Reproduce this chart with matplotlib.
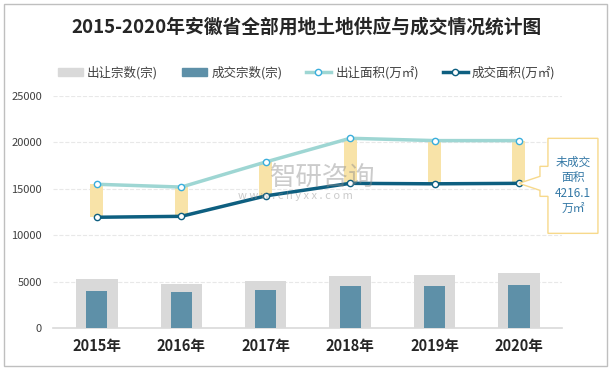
import numpy as np
import matplotlib
matplotlib.use('Agg')
import matplotlib.pyplot as plt
import matplotlib.transforms as mtransforms
from matplotlib.patches import Polygon, Rectangle
from matplotlib.lines import Line2D

plt.rcParams['font.family'] = ['Noto Sans CJK SC', 'DejaVu Sans']

years = ['2015年', '2016年', '2017年', '2018年', '2019年', '2020年']
sup_count = [5350, 4800, 5100, 5650, 5750, 5950]      # 出让宗数(宗)
deal_count = [4050, 3950, 4150, 4600, 4600, 4700]     # 成交宗数(宗)
sup_area = [15500, 15200, 17900, 20450, 20200, 20200]  # 出让面积(万㎡)
deal_area = [11950, 12050, 14250, 15600, 15550, 15600] # 成交面积(万㎡)
yticks = [0, 5000, 10000, 15000, 20000, 25000]
callout_text = '未成交\n面积\n4216.1\n万㎡'

C_SUP_BAR = '#D9D9D9'
C_DEAL_BAR = '#5E90A8'
C_SUP_LINE = '#9ED6D3'
C_DEAL_LINE = '#0E5F80'
C_GAP = '#F8E3A8'

W, H = 613, 370
fig = plt.figure(figsize=(W / 100, H / 100), dpi=100)
ax = fig.add_axes([53 / W, 1 - 328.3 / H, (562 - 53) / W, (328.3 - 96) / H])

x = np.arange(len(years))
ax.bar(x, sup_count, width=0.49, color=C_SUP_BAR, zorder=2)
ax.bar(x, deal_count, width=0.25, color=C_DEAL_BAR, zorder=3)

gap = np.array(sup_area) - np.array(deal_area)
ax.bar(x, gap, bottom=deal_area, width=0.155, color=C_GAP, zorder=3)

ax.plot(x, sup_area, color=C_SUP_LINE, lw=2.5, marker='o', ms=4.5,
        mfc='white', mec='#3AAEDC', mew=1, zorder=4)
ax.plot(x, deal_area, color=C_DEAL_LINE, lw=2.5, marker='o', ms=4.5,
        mfc='white', mec=C_DEAL_LINE, mew=1, zorder=5)

ax.set_xlim(-0.52, 5.51)
ax.set_ylim(0, 25000)
ax.set_yticks(yticks)
ax.set_yticklabels([str(v) for v in yticks], fontsize=8, color='#404040')
ax.set_xticks(x)
ax.set_xticklabels(years, fontsize=10.5, fontweight='bold', color='#262626')
ax.tick_params(axis='both', length=0)
ax.tick_params(axis='y', pad=8)
ax.tick_params(axis='x', pad=7)
ax.grid(axis='y', color='#E8E8E8', lw=0.8, ls='--', zorder=0)
for s in ['left', 'right', 'top']:
    ax.spines[s].set_visible(False)
ax.spines['bottom'].set_color('#D9D9D9')
ax.spines['bottom'].set_linewidth(1.2)
ax.set_axisbelow(True)

# callout pointing at the last 成交面积 point
tr = mtransforms.Affine2D() + mtransforms.ScaledTranslation(x[-1], deal_area[-1], ax.transData)
verts = [(29, 45), (29, 17), (21, 17), (21, 7), (0, 0), (21, -7), (21, -13),
         (29, -13), (29, -50), (79, -50), (79, 45)]
ax.add_patch(Polygon(verts, closed=True, transform=tr, facecolor='white',
                     edgecolor='#F7D98B', lw=1, zorder=6, clip_on=False))
ax.text(54, -2, callout_text, transform=tr, ha='center', va='center',
        fontsize=8.5, color='#3579A6', linespacing=1.25, zorder=7)

# watermark
fig.text(270 / W, 1 - 177 / H, '智研咨询', fontsize=19, color='#8C8C8C', alpha=0.45,
         ha='left', va='center', zorder=10)
fig.text(238 / W, 1 - 196 / H, 'w w w . c h y x x . c o m', fontsize=8, color='#8C8C8C',
         alpha=0.45, ha='left', va='center', zorder=10)

# title
fig.text(0.5, 1 - 27 / H, '2015-2020年安徽省全部用地土地供应与成交情况统计图',
         fontsize=13.5, fontweight='bold', color='#262626', ha='center', va='center')

handles = [
    Rectangle((0, 0), 1, 1, color=C_SUP_BAR),
    Rectangle((0, 0), 1, 1, color=C_DEAL_BAR),
    Line2D([], [], color=C_SUP_LINE, lw=2.5, marker='o', ms=4.5, mfc='white', mec='#3AAEDC'),
    Line2D([], [], color=C_DEAL_LINE, lw=2.5, marker='o', ms=4.5, mfc='white', mec=C_DEAL_LINE),
]
labels = ['出让宗数(宗)', '成交宗数(宗)', '出让面积(万㎡)', '成交面积(万㎡)']
fig.legend(handles, labels, loc='center', bbox_to_anchor=(0.5, 1 - 72.5 / H), ncol=4,
           frameon=False, fontsize=9, handlelength=2.0, handleheight=0.55,
           handletextpad=0.35, columnspacing=1.9, labelcolor='#404040')

fig.add_artist(Rectangle((4 / W, 4 / H), 603 / W, 362 / H, transform=fig.transFigure,
                         fill=False, edgecolor='#BFBFBF', lw=1))

fig.savefig('out.png', dpi=100)
